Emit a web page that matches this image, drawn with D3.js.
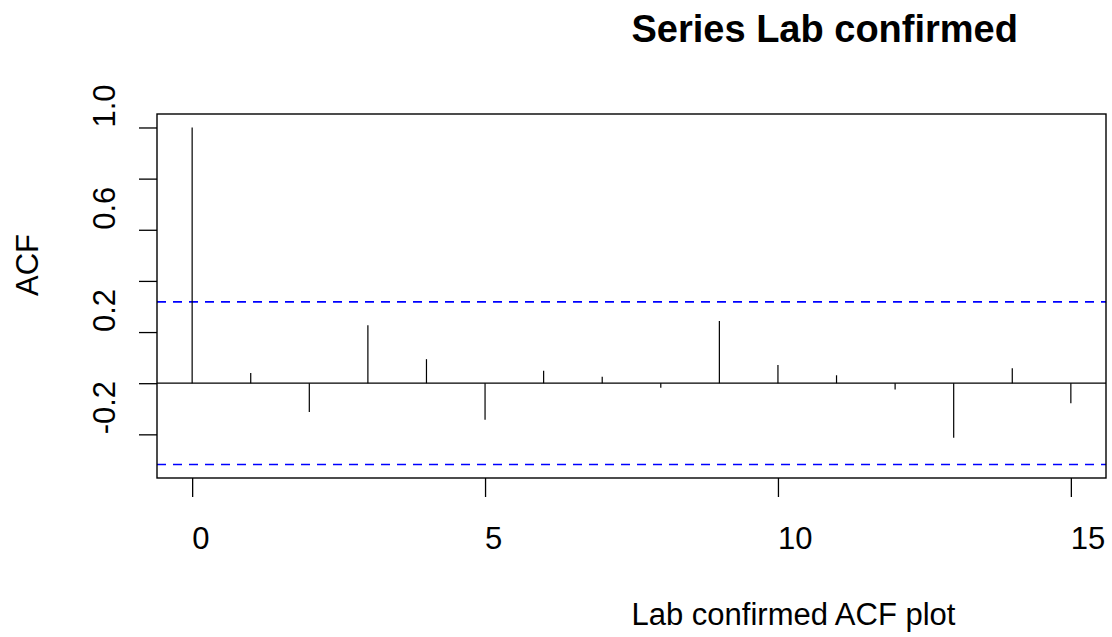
<!DOCTYPE html>
<html>
<head>
<meta charset="utf-8">
<script src="https://cdn.jsdelivr.net/npm/d3@7"></script>
<style>
  body { margin: 0; background: #fff; }
  text { font-family: "Liberation Sans", Arial, sans-serif; fill: #000; }
</style>
</head>
<body>
<div id="chart"></div>
<script>
// ACF values, one per lag
const lags = [0, 1, 2, 3, 4, 5, 6, 7, 8, 9, 10, 11, 12, 13, 14, 15];
const acf = [1.0, 0.040, -0.113, 0.227, 0.094, -0.143, 0.049, 0.025, -0.018, 0.243, 0.071, 0.031, -0.025, -0.213, 0.058, -0.078];
const ciBound = 0.318;
const xTicks = [0, 5, 10, 15];
const yTicks = [-0.2, 0, 0.2, 0.4, 0.6, 0.8, 1.0];
const yLabels = ["-0.2", "0.2", "0.6", "1.0"];

const width = 1112, height = 637;
const box = {left: 157, right: 1106, top: 114, bottom: 478};

let svg = d3.select("#chart")
    .append("svg")
    .attr("width", width)
    .attr("height", height);

// R style axis limits: data range plus 4% on each side
let xr = [d3.min(lags), d3.max(lags)];
let yr = [Math.min(-ciBound, d3.min(acf)), Math.max(ciBound, d3.max(acf))];
let xPad = (xr[1] - xr[0]) * 0.04, yPad = (yr[1] - yr[0]) * 0.04;

let x = d3.scaleLinear()
    .domain([xr[0] - xPad, xr[1] + xPad])
    .range([box.left, box.right]);

let y = d3.scaleLinear()
    .domain([yr[0] - yPad, yr[1] + yPad])
    .range([box.bottom, box.top]);

// zero line
svg.append("line")
    .attr("x1", box.left).attr("x2", box.right)
    .attr("y1", y(0)).attr("y2", y(0))
    .attr("stroke", "#000").attr("stroke-width", 1.2);

// confidence bounds
svg.selectAll(".ci")
    .data([ciBound, -ciBound])
    .enter()
    .append("line")
    .attr("class", "ci")
    .attr("x1", box.left).attr("x2", box.right)
    .attr("y1", d => y(d)).attr("y2", d => y(d))
    .attr("stroke", "#0000ff")
    .attr("stroke-width", 1.6)
    .attr("stroke-dasharray", "9,7");

// spikes
svg.selectAll(".spike")
    .data(lags)
    .enter()
    .append("line")
    .attr("class", "spike")
    .attr("x1", d => x(d)).attr("x2", d => x(d))
    .attr("y1", y(0))
    .attr("y2", (d, i) => y(acf[i]))
    .attr("stroke", "#000")
    .attr("stroke-width", 1.2);

// box
svg.append("rect")
    .attr("x", box.left).attr("y", box.top)
    .attr("width", box.right - box.left)
    .attr("height", box.bottom - box.top)
    .attr("fill", "none")
    .attr("stroke", "#000")
    .attr("stroke-width", 1.4);

// x axis
let xAxis = svg.append("g")
    .attr("transform", `translate(0, ${box.bottom})`)
    .call(d3.axisBottom(x).tickValues(xTicks).tickSize(19).tickFormat(""));
xAxis.select(".domain").remove();
xAxis.selectAll("line").attr("stroke-width", 1.3);

svg.selectAll(".xlab")
    .data(xTicks)
    .enter()
    .append("text")
    .attr("class", "xlab")
    .attr("x", d => x(d))
    .attr("y", 549)
    .style("font-size", "31px")
    .style("text-anchor", "start")
    .text(d => d);

// y axis
let yAxis = svg.append("g")
    .attr("transform", `translate(${box.left}, 0)`)
    .call(d3.axisLeft(y).tickValues(yTicks).tickSize(18).tickFormat(""));
yAxis.select(".domain").remove();
yAxis.selectAll("line").attr("stroke-width", 1.3);

// labels keep the plain hyphen minus of the original
svg.selectAll(".ylab")
    .data(yLabels)
    .enter()
    .append("text")
    .attr("class", "ylab")
    .attr("transform", d => `translate(115, ${y(+d)}) rotate(-90)`)
    .style("font-size", "31px")
    .style("text-anchor", "start")
    .text(d => d);

// titles
let midX = (box.left + box.right) / 2, midY = (box.top + box.bottom) / 2;

svg.append("text")
    .attr("x", midX)
    .attr("y", 42)
    .style("font-size", "38px")
    .style("font-weight", "bold")
    .style("text-anchor", "start")
    .text("Series Lab confirmed");

svg.append("text")
    .attr("x", midX)
    .attr("y", 625)
    .style("font-size", "31px")
    .style("text-anchor", "start")
    .text("Lab confirmed ACF plot");

svg.append("text")
    .attr("transform", `translate(38, ${midY}) rotate(-90)`)
    .style("font-size", "31px")
    .style("text-anchor", "start")
    .text("ACF");
</script>
</body>
</html>
